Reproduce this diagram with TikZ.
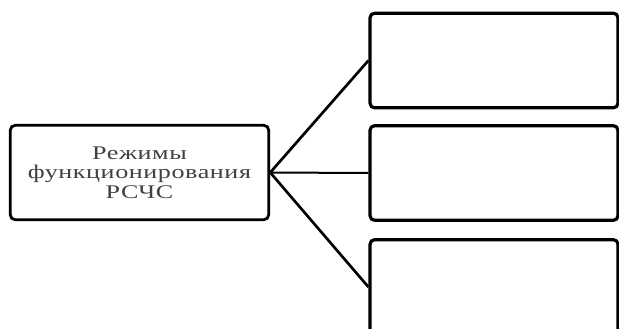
\documentclass[tikz,border=0pt]{standalone}
\usepackage{fontspec}
\setmainfont{Liberation Serif}
\newfontfamily\widefont[FakeStretch=1.35,LetterSpace=3]{Liberation Serif}
\usepackage{tikz}

\tikzset{
  modebox/.style={draw, line width=2.4pt, rounded corners=3.5pt, minimum width=186pt, minimum height=71pt, inner sep=0pt},
  mainbox/.style={draw, line width=2.1pt, rounded corners=4pt, minimum width=194pt, minimum height=71pt, inner sep=0pt, align=center, text=black!75, font=\widefont\fontsize{14.5}{14.6}\selectfont},
  link/.style={line width=2pt}
}

\begin{document}
\begin{tikzpicture}[x=0.75pt,y=0.75pt,yscale=-1,xscale=1]
\useasboundingbox (0,0) rectangle (619,329);

% Left box
\draw (139.5,172.5) node [mainbox] (modes) {Режимы\\функционирования\\РСЧС};

% Right boxes
\draw (494,60.5) node [modebox] (top) {};
\draw (494,173) node [modebox] (mid) {};
\draw (494,287) node [modebox] (bot) {};

% Links
\draw [link] (modes.east) -- (top.west);
\draw [link, line width=1.5pt] (modes.east) -- (mid.west);
\draw [link] (modes.east) -- (bot.west);

\end{tikzpicture}
\end{document}
